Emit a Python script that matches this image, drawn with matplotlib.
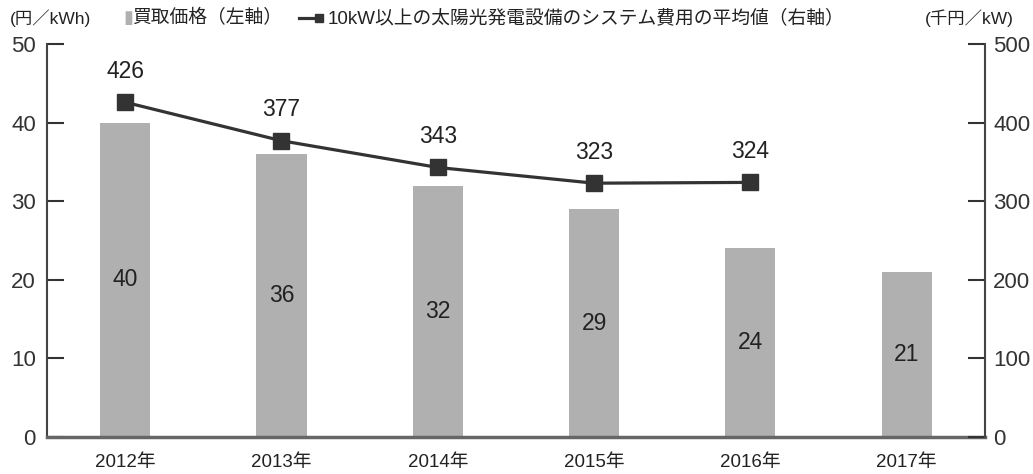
import matplotlib
matplotlib.use('Agg')
import matplotlib.pyplot as plt
import numpy as np

plt.rcParams['font.family'] = ['Liberation Sans', 'Noto Sans CJK JP', 'DejaVu Sans']

years = ['2012年', '2013年', '2014年', '2015年', '2016年', '2017年']
price = [40, 36, 32, 29, 24, 21]
cost = [426, 377, 343, 323, 324]

#==================================
fig = plt.figure(figsize=(10.33, 4.74), dpi=100)
ax = fig.add_axes([0.0455, 0.078, 0.908, 0.829])
x = np.arange(len(years))
ax.bar(x, price, width=0.32, color='#b0b0b0', zorder=2)
for i, v in enumerate(price):
  ax.text(i, v / 2, str(v), ha='center', va='center', fontsize=16.5, color='#222222')
ax.set_xlim(-0.5, 5.5)
ax.set_ylim(0, 50)
ax.set_yticks([0, 10, 20, 30, 40, 50])
ax.set_xticks(x)
ax.set_xticklabels(years, fontsize=13.5, color='#222222')
ax.tick_params(axis='y', direction='in', length=12, width=1.5, labelsize=16, pad=8, colors='#333333')
ax.tick_params(axis='x', length=0, pad=12)
ax.spines['top'].set_visible(False)
ax.spines['right'].set_visible(False)
ax.spines['left'].set_color('#444444')
ax.spines['left'].set_linewidth(1.5)
ax.spines['bottom'].set_color('#666666')
ax.spines['bottom'].set_linewidth(2.5)

ax2 = ax.twinx()
ax2.plot(x[:len(cost)], cost, color='#333333', lw=2.3, marker='s', markersize=12, zorder=3)
for i, v in enumerate(cost):
  ax2.annotate(str(v), (i, v), xytext=(0, 14), textcoords='offset points',
               ha='center', va='bottom', fontsize=16.5, color='#222222')
ax2.set_ylim(0, 500)
ax2.set_yticks([0, 100, 200, 300, 400, 500])
ax2.tick_params(axis='y', direction='in', length=12, width=1.5, labelsize=16, pad=6, colors='#333333')
ax2.spines['top'].set_visible(False)
ax2.spines['left'].set_visible(False)
ax2.spines['bottom'].set_visible(False)
ax2.spines['right'].set_color('#444444')
ax2.spines['right'].set_linewidth(1.5)

# legend and axis units across the top
ty = 0.962
fig.text(0.010, ty, '(円／kWh)', fontsize=12.5, va='center', color='#222222')
fig.text(0.895, ty, '(千円／kW)', fontsize=12.5, va='center', color='#222222')
fig.text(0.119, ty, '▮', fontsize=13, va='center', color='#b0b0b0', family=['DejaVu Sans'])
fig.text(0.128, ty, '買取価格（左軸）', fontsize=13.5, va='center', color='#222222')
fig.lines.append(plt.Line2D([0.289, 0.309], [ty, ty], transform=fig.transFigure,
                            color='#333333', lw=2.3, marker='s', markersize=6, markevery=[1]))
fig.text(0.317, ty, '10kW以上の太陽光発電設備のシステム費用の平均値（右軸）', fontsize=13.5,
         va='center', color='#222222')

plt.savefig('out.png', dpi=100)
